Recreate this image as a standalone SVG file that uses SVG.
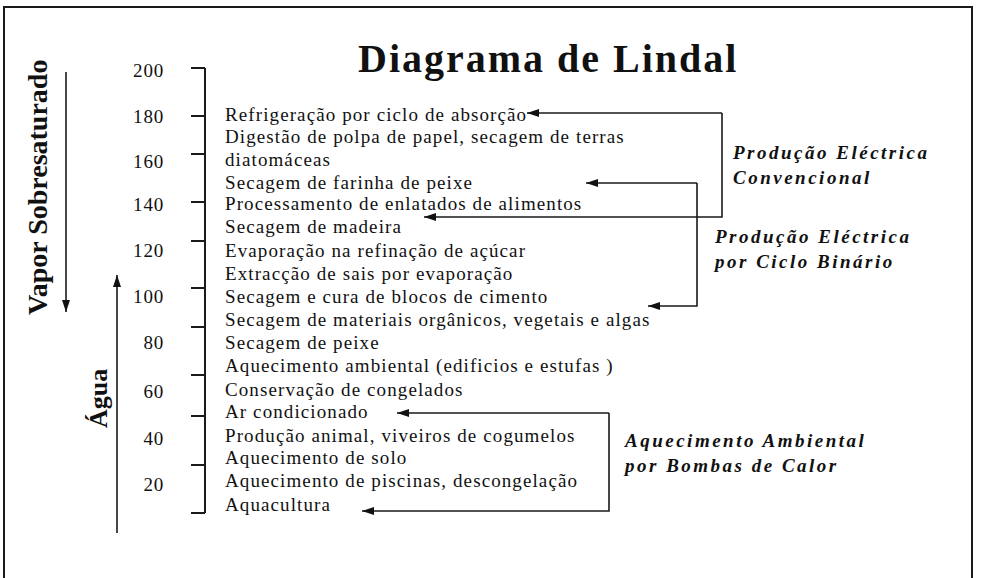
<svg xmlns="http://www.w3.org/2000/svg" width="983" height="578" viewBox="0 0 983 578">
<style>
.it{font-family:"Liberation Serif","Times New Roman",serif;font-size:19px;letter-spacing:1.1px;fill:#111}
.num{font-family:"Liberation Serif","Times New Roman",serif;font-size:19px;letter-spacing:0.8px;fill:#111;text-anchor:end}
.lab{font-family:"Liberation Serif","Times New Roman",serif;font-size:19px;font-weight:bold;font-style:italic;letter-spacing:2.5px;fill:#111}
.big{font-family:"Liberation Serif","Times New Roman",serif;font-weight:bold;fill:#111}
.ln{stroke:#1a1a1a;stroke-width:1.6;fill:none}
.ax{stroke:#1a1a1a;stroke-width:2;fill:none}
</style>
<defs>
<marker id="ah" viewBox="0 0 12 8" refX="12" refY="4" markerWidth="12" markerHeight="8" markerUnits="userSpaceOnUse" orient="auto">
<path d="M0,0 L12,4 L0,8 Z" fill="#111"/>
</marker>
</defs>
<rect width="983" height="578" fill="#fff"/>
<rect id="frame" x="4" y="7" width="968" height="620" fill="none" stroke="#1a1a1a" stroke-width="2"/>

<g id="title"><text class="big" x="358" y="72" font-size="40" letter-spacing="2">Diagrama de Lindal</text></g>

<g id="vapor">
<text class="big" font-size="28" transform="translate(47,315) rotate(-90)">Vapor Sobresaturado</text>
<line class="ln" x1="66" y1="72" x2="66" y2="312" marker-end="url(#ah)"/>
</g>
<g id="agua">
<text class="big" font-size="26" transform="translate(107,428) rotate(-90)">Água</text>
<line class="ln" x1="117" y1="533" x2="117" y2="275" marker-end="url(#ah)"/>
</g>

<g id="scale">
<path class="ax" d="M205,68 V513 M191,68 H205 M191,116 H205 M191,154 H205 M191,202 H205 M191,241 H205 M191,288 H205 M191,327 H205 M191,375 H205 M191,416 H205 M191,465 H205 M191,513 H205"/>
<text class="num" x="164" y="77">200</text>
<text class="num" x="164" y="123">180</text>
<text class="num" x="164" y="168">160</text>
<text class="num" x="164" y="211">140</text>
<text class="num" x="164" y="257">120</text>
<text class="num" x="164" y="303">100</text>
<text class="num" x="164" y="349">80</text>
<text class="num" x="164" y="398">60</text>
<text class="num" x="164" y="445">40</text>
<text class="num" x="164" y="491">20</text>
</g>

<g id="uses">
<text class="it" x="225" y="121">Refrigeração por ciclo de absorção</text>
<text class="it" x="225" y="143">Digestão de polpa de papel, secagem de terras</text>
<text class="it" x="225" y="166">diatomáceas</text>
<text class="it" x="225" y="189">Secagem de farinha de peixe</text>
<text class="it" x="225" y="210">Processamento de enlatados de alimentos</text>
<text class="it" x="225" y="233">Secagem de madeira</text>
<text class="it" x="225" y="257">Evaporação na refinação de açúcar</text>
<text class="it" x="225" y="280">Extracção de sais por evaporação</text>
<text class="it" x="225" y="303">Secagem e cura de blocos de cimento</text>
<text class="it" x="225" y="326">Secagem de materiais orgânicos, vegetais e algas</text>
<text class="it" x="225" y="349">Secagem de peixe</text>
<text class="it" x="225" y="372">Aquecimento ambiental (edificios e estufas )</text>
<text class="it" x="225" y="396">Conservação de congelados</text>
<text class="it" x="225" y="418">Ar condicionado</text>
<text class="it" x="225" y="442">Produção animal, viveiros de cogumelos</text>
<text class="it" x="225" y="464">Aquecimento de solo</text>
<text class="it" x="225" y="487">Aquecimento de piscinas, descongelação</text>
<text class="it" x="225" y="511">Aquacultura</text>
</g>

<g id="label-convencional">
<text class="lab" x="733" y="159">Produção Eléctrica</text>
<text class="lab" x="733" y="184">Convencional</text>
</g>
<g id="label-binario">
<text class="lab" x="715" y="243">Produção Eléctrica</text>
<text class="lab" x="715" y="268">por Ciclo Binário</text>
</g>
<g id="label-bombas">
<text class="lab" x="625" y="447">Aquecimento Ambiental</text>
<text class="lab" x="625" y="472">por Bombas de Calor</text>
</g>

<g id="connectors">
<path class="ln" d="M722,113 H527" marker-end="url(#ah)"/>
<path class="ln" d="M722,113 V217 H424" marker-end="url(#ah)"/>
<path class="ln" d="M697,183 H586" marker-end="url(#ah)"/>
<path class="ln" d="M697,183 V306 H648" marker-end="url(#ah)"/>
<path class="ln" d="M609,413 H397" marker-end="url(#ah)"/>
<path class="ln" d="M609,413 V511 H362" marker-end="url(#ah)"/>
</g>
</svg>
